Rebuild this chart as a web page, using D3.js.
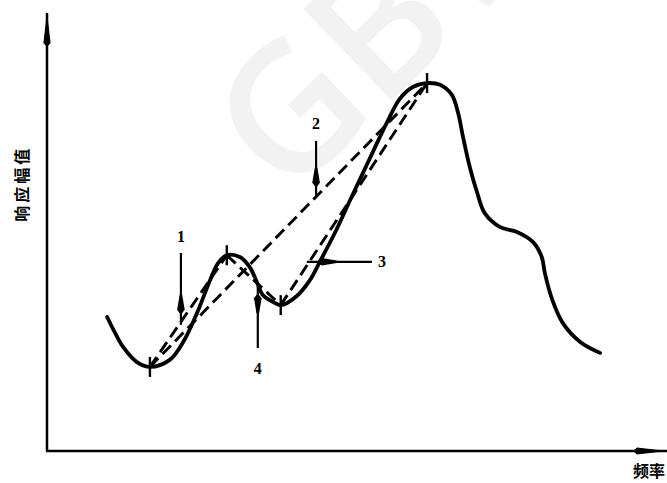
<!DOCTYPE html>
<html>
<head>
<meta charset="utf-8">
<script src="https://cdn.jsdelivr.net/npm/d3@7"></script>
<style>
  body { margin: 0; background: #fff; }
  svg { display: block; }
</style>
</head>
<body>
<div id="chart"></div>
<script>
// response curve (frequency, amplitude), arbitrary units 0-100
var freq = [9.7, 11.0, 12.3, 14.5, 16.6, 19.8, 21.9, 24.2, 26.3, 27.6, 29.0, 31.1, 32.7, 33.9, 34.8, 36.5, 37.7,
  40.3, 42.4, 44.0, 46.5, 48.9, 52.1, 54.8, 56.9, 59.0, 61.3, 63.4, 65.3, 66.3, 67.1, 68.2, 69.4, 70.6,
  73.1, 75.8, 78.4, 79.8, 80.3, 81.5, 83.2, 86.0, 89.2];
var amp = [30.6, 26.9, 23.7, 20.3, 19.2, 20.8, 24.7, 31.5, 39.0, 42.9, 44.7, 44.3, 42.0, 38.4, 35.6, 34.0, 33.3,
  35.4, 39.0, 43.2, 50.0, 57.3, 66.9, 74.9, 80.4, 83.1, 84.0, 83.6, 81.3, 77.2, 71.7, 64.8, 58.9, 54.3,
  51.1, 50.0, 47.7, 44.3, 40.6, 34.5, 29.2, 24.9, 22.4];

// turning points of the curve
var peakF = [16.6, 29.0, 37.7, 61.3];
var peakA = [19.2, 44.7, 33.3, 84.0];

// dashed chords between turning points
var chords = [[0, 1], [0, 3], [1, 2], [2, 3]];

// callout arrows: label, tail and tip
var callLabel = ["1", "2", "3", "4"];
var tailF = [21.6, 43.4, 52.4, 34.0];
var tailA = [45.2, 70.8, 43.2, 23.5];
var tipF = [21.6, 43.4, 41.9, 34.0];
var tipA = [28.8, 57.8, 43.2, 38.3];

var yTitle = "响应幅值";
var xTitle = "频率";

var svgWidth = 667;
var svgHeight = 483;

var svg = d3.select("#chart")
  .append("svg")
  .attr("width", svgWidth)
  .attr("height", svgHeight);

var xScale = d3.scaleLinear().domain([0, 100]).range([47, 667]);
var yScale = d3.scaleLinear().domain([0, 100]).range([451, 13]);

var defs = svg.append("defs");

defs.append("marker")
  .attr("id", "axisHead")
  .attr("markerUnits", "userSpaceOnUse")
  .attr("viewBox", "-40 -5 42 10")
  .attr("markerWidth", 42)
  .attr("markerHeight", 10)
  .attr("refX", 0)
  .attr("refY", 0)
  .attr("orient", "auto")
  .append("path")
  .attr("d", "M1,0 L-30,-3.6 L-34,0 L-30,3.6 Z")
  .attr("fill", "#000");

defs.append("marker")
  .attr("id", "callHead")
  .attr("markerUnits", "userSpaceOnUse")
  .attr("viewBox", "-34 -5 36 10")
  .attr("markerWidth", 36)
  .attr("markerHeight", 10)
  .attr("refX", 0)
  .attr("refY", 0)
  .attr("orient", "auto")
  .append("path")
  .attr("d", "M-10,0 L-15,-3.8 L-30,-1.3 L-30,1.3 L-15,3.8 Z")
  .attr("fill", "#000");

// faint watermark
svg.append("text")
  .attr("transform", "translate(388,8) rotate(-44)")
  .attr("text-anchor", "middle")
  .attr("dominant-baseline", "central")
  .attr("font-family", "Open Sans, sans-serif")
  .attr("font-weight", 600)
  .attr("font-size", 178)
  .attr("fill", "#f2f2f2")
  .text("GBW");

// axes
svg.append("line")
  .attr("x1", xScale(0)).attr("y1", yScale(0))
  .attr("x2", xScale(0)).attr("y2", yScale(100))
  .attr("stroke", "#000")
  .attr("stroke-width", 2.5)
  .attr("marker-end", "url(#axisHead)");

svg.append("line")
  .attr("x1", xScale(0) - 1).attr("y1", yScale(0))
  .attr("x2", xScale(100)).attr("y2", yScale(0))
  .attr("stroke", "#000")
  .attr("stroke-width", 2.5)
  .attr("marker-end", "url(#axisHead)");

svg.append("text")
  .attr("transform", `translate(21, ${yScale(61)}) rotate(-90)`)
  .attr("text-anchor", "middle")
  .attr("dominant-baseline", "central")
  .attr("font-family", "Noto Sans CJK SC")
  .attr("font-weight", "bold")
  .attr("font-size", 16)
  .attr("letter-spacing", 3)
  .text(yTitle);

svg.append("text")
  .attr("x", 665)
  .attr("y", 477)
  .attr("text-anchor", "end")
  .attr("font-family", "Noto Sans CJK SC")
  .attr("font-weight", "bold")
  .attr("font-size", 16)
  .text(xTitle);

// dashed chords
var chordGroup = svg.append("g");
chordGroup.selectAll("line")
  .data(chords)
  .enter()
  .append("line")
  .attr("x1", d => xScale(peakF[d[0]]))
  .attr("y1", d => yScale(peakA[d[0]]))
  .attr("x2", d => xScale(peakF[d[1]]))
  .attr("y2", d => yScale(peakA[d[1]]))
  .attr("stroke", "#000")
  .attr("stroke-width", 2.9)
  .attr("stroke-dasharray", "12,6");

// response curve
var pts = freq.map((f, i) => [f, amp[i]]);
var line = d3.line()
  .x(d => xScale(d[0]))
  .y(d => yScale(d[1]))
  .curve(d3.curveCatmullRom.alpha(0.5));

svg.append("path")
  .datum(pts)
  .attr("d", line)
  .attr("fill", "none")
  .attr("stroke", "#000")
  .attr("stroke-width", 3.8)
  .attr("stroke-linecap", "round")
  .attr("stroke-linejoin", "round");

// short ticks at the turning points
svg.append("g").selectAll("line")
  .data(peakF)
  .enter()
  .append("line")
  .attr("x1", d => xScale(d))
  .attr("x2", d => xScale(d))
  .attr("y1", (d, i) => yScale(peakA[i]) - 10)
  .attr("y2", (d, i) => yScale(peakA[i]) + 10)
  .attr("stroke", "#000")
  .attr("stroke-width", 2.4);

// callout arrows with numbers
var calls = svg.append("g");
calls.selectAll("line")
  .data(callLabel)
  .enter()
  .append("line")
  .attr("x1", (d, i) => xScale(tailF[i]))
  .attr("y1", (d, i) => yScale(tailA[i]))
  .attr("x2", (d, i) => xScale(tipF[i]))
  .attr("y2", (d, i) => yScale(tipA[i]))
  .attr("stroke", "#000")
  .attr("stroke-width", 2.2)
  .attr("marker-end", "url(#callHead)");

calls.selectAll("text")
  .data(callLabel)
  .enter()
  .append("text")
  .attr("x", (d, i) => xScale(tailF[i]) + (i == 2 ? 10 : 0))
  .attr("y", (d, i) => {
    if (i == 2) return yScale(tailA[i]);
    if (i == 3) return yScale(tailA[i]) + 20;
    return yScale(tailA[i]) - 17;
  })
  .attr("text-anchor", "middle")
  .attr("dominant-baseline", "central")
  .attr("font-family", "Liberation Serif, serif")
  .attr("font-weight", "bold")
  .attr("font-size", 16)
  .text(d => d);
</script>
</body>
</html>
